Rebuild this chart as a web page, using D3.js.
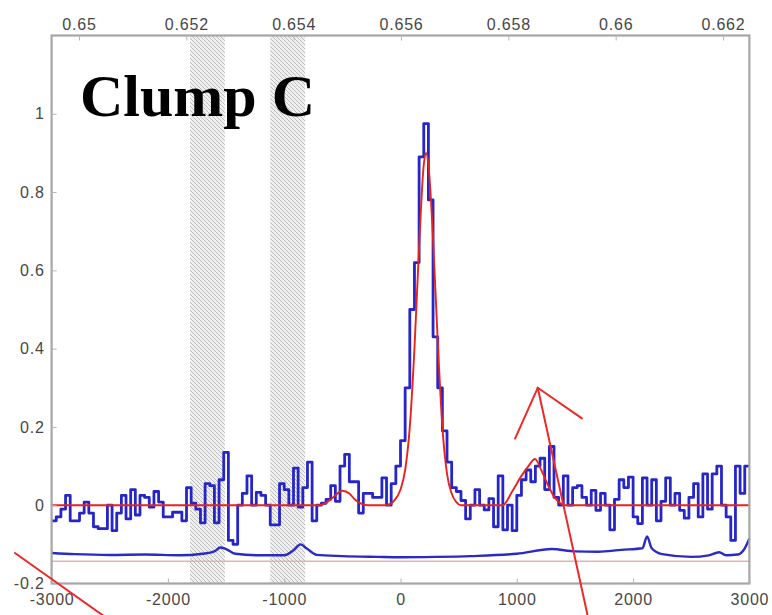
<!DOCTYPE html>
<html>
<head>
<meta charset="utf-8">
<script src="https://cdn.jsdelivr.net/npm/d3@7"></script>
<style>
  body { margin: 0; background: #fff; }
  .tick text { font-family: "Liberation Sans", Arial, sans-serif; font-size: 16px; letter-spacing: 0.8px; fill: #474747; }
</style>
</head>
<body>
<svg id="chart" width="772" height="615"></svg>
<script>
// Spectrum channels: width in km/s and velocity of the first channel edge
const channelWidth = 40;
const velocityStart = -3000;

// Observed, normalised H-alpha flux per 40 km/s channel (-3000 .. +3000 km/s)
const flux = [
  -0.04, -0.03, -0.01, 0.025, -0.04, -0.04, -0.02, 0.008, -0.02, -0.055,
  -0.06, -0.06, 0.0, -0.065, -0.02, 0.025, -0.035, 0.04, -0.025, 0.025,
  0.02, -0.005, 0.035, 0.008, -0.03, -0.03, -0.018, -0.018, -0.04, 0.045,
  0.005, -0.01, -0.045, 0.055, 0.05, -0.045, 0.065, 0.135, -0.09, -0.1,
  0.0, 0.03, 0.075, 0.0, 0.033, 0.025, 0.0, -0.05, -0.05, 0.055,
  0.04, 0.0, 0.095, -0.005, 0.045, 0.11, -0.04, 0.0, 0.005, 0.015,
  0.05, 0.01, 0.1, 0.13, 0.06, 0.06, -0.02, 0.03, 0.03, 0.02,
  0.02, 0.07, 0.0, 0.055, 0.1, 0.165, 0.3, 0.5, 0.62, 0.89,
  0.975, 0.78, 0.43, 0.3, 0.19, 0.11, 0.045, 0.035, 0.012, -0.035,
  0.0, 0.04, 0.0, -0.012, 0.017, -0.055, 0.075, -0.063, 0.0, -0.065,
  0.025, 0.065, 0.09, 0.06, 0.1, 0.12, 0.04, 0.15, 0.02, 0.0,
  0.075, 0.0, 0.045, 0.05, 0.02, 0.0, 0.038, -0.013, 0.03, 0.0,
  -0.063, 0.015, 0.065, 0.045, 0.072, -0.03, -0.047, 0.07, 0.0, 0.065,
  -0.04, 0.01, 0.07, 0.0, 0.03, -0.013, -0.033, 0.02, 0.055, -0.03,
  0.08, -0.01, 0.08, 0.1, 0.0, -0.03, -0.09, 0.1, 0.03, 0.1
];

// Model fit (velocity km/s, flux)
const fitVelocity = [-3000, -700, -640, -580, -500, -440, -390, -330, -280, -120,
  -60, 0, 40, 80, 120, 160, 200, 220, 240, 280,
  320, 360, 400, 440, 480, 520, 880, 960, 1040, 1100,
  1157, 1210, 1270, 1330, 1380, 1420, 3000];
const fitFlux = [0, 0, 0.006, 0.02, 0.037, 0.03, 0.014, 0.003, 0, 0,
  0.01, 0.04, 0.09, 0.2, 0.4, 0.66, 0.87, 0.9, 0.87, 0.68,
  0.42, 0.2, 0.08, 0.03, 0.008, 0, 0, 0.035, 0.075, 0.1,
  0.118, 0.09, 0.05, 0.018, 0.004, 0, 0];

// Noise spectrum drawn underneath (velocity km/s, flux)
const noiseVelocity = [-3000, -2800, -2500, -2200, -1900, -1700, -1600, -1550, -1500, -1420,
  -1200, -1000, -920, -860, -800, -720, -500, -200, 0, 300,
  600, 1000, 1300, 1500, 1700, 1900, 2080, 2120, 2160, 2250,
  2500, 2650, 2740, 2800, 2900, 2960, 3000];
const noiseFlux = [-0.122, -0.125, -0.127, -0.126, -0.128, -0.124, -0.118, -0.108, -0.112, -0.124,
  -0.128, -0.128, -0.115, -0.1, -0.112, -0.127, -0.13, -0.132, -0.133, -0.132,
  -0.13, -0.124, -0.112, -0.118, -0.119, -0.114, -0.11, -0.08, -0.11, -0.125,
  -0.132, -0.128, -0.12, -0.128, -0.126, -0.11, -0.085];

// Detection limit level
const limitLevel = -0.143;

// Velocity ranges masked out (sky lines)
const maskedBands = [[-1810, -1510], [-1120, -820]];

// Axis ticks
const velocityTicks = [-3000, -2000, -1000, 0, 1000, 2000, 3000];
const fluxTicks = [-0.2, 0, 0.2, 0.4, 0.6, 0.8, 1];
const wavelengthTicks = [0.65, 0.652, 0.654, 0.656, 0.658, 0.66, 0.662];

// Hand-drawn red annotation strokes (velocity km/s, flux)
const arrowHead = [[985, 0.17], [1180, 0.30], [1560, 0.222]];
const arrowShaft = [[1180, 0.30], [1615, -0.29]];
const leftStroke = [[-3315, -0.122], [-2495, -0.295]];

const title = "Clump C";

// ---------------------------------------------------------------
const svg = d3.select("#chart");

const x = d3.scaleLinear().domain([-3000, 3000]).range([51.6, 749.4]);
const y = d3.scaleLinear().domain([-0.2, 1.2]).range([583.5, 35.5]);
const wl = d3.scaleLinear().domain([0.649489, 0.662492]).range([51.6, 749.4]);

const [x0, x1] = x.range();
const [yBottom, yTop] = y.range();

// hatch pattern for masked bands
const defs = svg.append("defs");
const pat = defs.append("pattern")
  .attr("id", "hatch").attr("patternUnits", "userSpaceOnUse")
  .attr("width", 4).attr("height", 4);
pat.append("rect").attr("width", 4).attr("height", 4).attr("fill", "#f0f0f0");
pat.append("path").attr("d", "M-1,-1 L5,5 M3,-1 L5,1 M-1,3 L1,5")
  .attr("stroke", "#bdbdbd").attr("stroke-width", 1);

svg.append("g").selectAll("rect").data(maskedBands).join("rect")
  .attr("x", d => x(d[0]))
  .attr("width", d => x(d[1]) - x(d[0]))
  .attr("y", yTop)
  .attr("height", yBottom - yTop)
  .attr("fill", "url(#hatch)");

// title
svg.append("text")
  .attr("x", 80).attr("y", 116)
  .attr("font-family", "'Liberation Serif', 'Times New Roman', serif")
  .attr("font-weight", "bold")
  .attr("font-size", 60)
  .attr("fill", "#000")
  .text(title);

const plot = svg.append("g");

// detection limit line
plot.append("line")
  .attr("x1", x0).attr("x2", x1)
  .attr("y1", y(limitLevel)).attr("y2", y(limitLevel))
  .attr("stroke", "#e3b3b3").attr("stroke-width", 1.5);

// noise spectrum
const noisePts = noiseVelocity.map((v, i) => [v, noiseFlux[i]]);
plot.append("path")
  .attr("d", d3.line().x(d => x(d[0])).y(d => y(d[1])).curve(d3.curveMonotoneX)(noisePts))
  .attr("fill", "none").attr("stroke", "#2a2ac4").attr("stroke-width", 2.4);

// observed spectrum as a histogram-style step line
const velocities = d3.range(flux.length).map(i => velocityStart + i * channelWidth);
const stepPts = velocities.map((v, i) => [v, flux[i]]);
stepPts.push([velocityStart + flux.length * channelWidth, flux[flux.length - 1]]);
plot.append("path")
  .attr("d", d3.line().x(d => x(d[0])).y(d => y(d[1])).curve(d3.curveStepAfter)(stepPts))
  .attr("fill", "none").attr("stroke", "#2626c8").attr("stroke-width", 2.8)
  .attr("stroke-linejoin", "round");

// model fit
const fitPts = fitVelocity.map((v, i) => [v, fitFlux[i]]);
plot.append("path")
  .attr("d", d3.line().x(d => x(d[0])).y(d => y(d[1])).curve(d3.curveMonotoneX)(fitPts))
  .attr("fill", "none").attr("stroke", "#e8231f").attr("stroke-width", 1.9);

// frame
svg.append("rect")
  .attr("x", x0).attr("y", yTop)
  .attr("width", x1 - x0).attr("height", yBottom - yTop)
  .attr("fill", "none").attr("stroke", "#a6a6a6").attr("stroke-width", 2.2);

// axes
const fmt = d => String(d);
const styleAxis = g => {
  g.select(".domain").remove();
  g.selectAll(".tick line").attr("stroke", "#b5b5b5").attr("stroke-width", 1);
};

svg.append("g")
  .attr("transform", `translate(0,${yBottom})`)
  .call(d3.axisBottom(x).tickValues(velocityTicks).tickFormat(fmt).tickSizeInner(-5).tickSizeOuter(0).tickPadding(10))
  .call(styleAxis);

svg.append("g")
  .attr("transform", `translate(0,${yTop})`)
  .call(d3.axisTop(wl).tickValues(wavelengthTicks).tickFormat(fmt).tickSizeInner(-5).tickSizeOuter(0).tickPadding(6))
  .call(styleAxis);

svg.append("g")
  .attr("transform", `translate(${x0},0)`)
  .call(d3.axisLeft(y).tickValues(fluxTicks).tickFormat(fmt).tickSizeInner(-5).tickSizeOuter(0).tickPadding(7))
  .call(styleAxis);

// red annotation strokes
const ann = svg.append("g").attr("fill", "none").attr("stroke", "#ea2a2a")
  .attr("stroke-width", 2).attr("stroke-linecap", "round").attr("stroke-linejoin", "round");
const straight = d3.line().x(d => x(d[0])).y(d => y(d[1]));
[arrowHead, arrowShaft, leftStroke].forEach(seg => ann.append("path").attr("d", straight(seg)));
</script>
</body>
</html>
